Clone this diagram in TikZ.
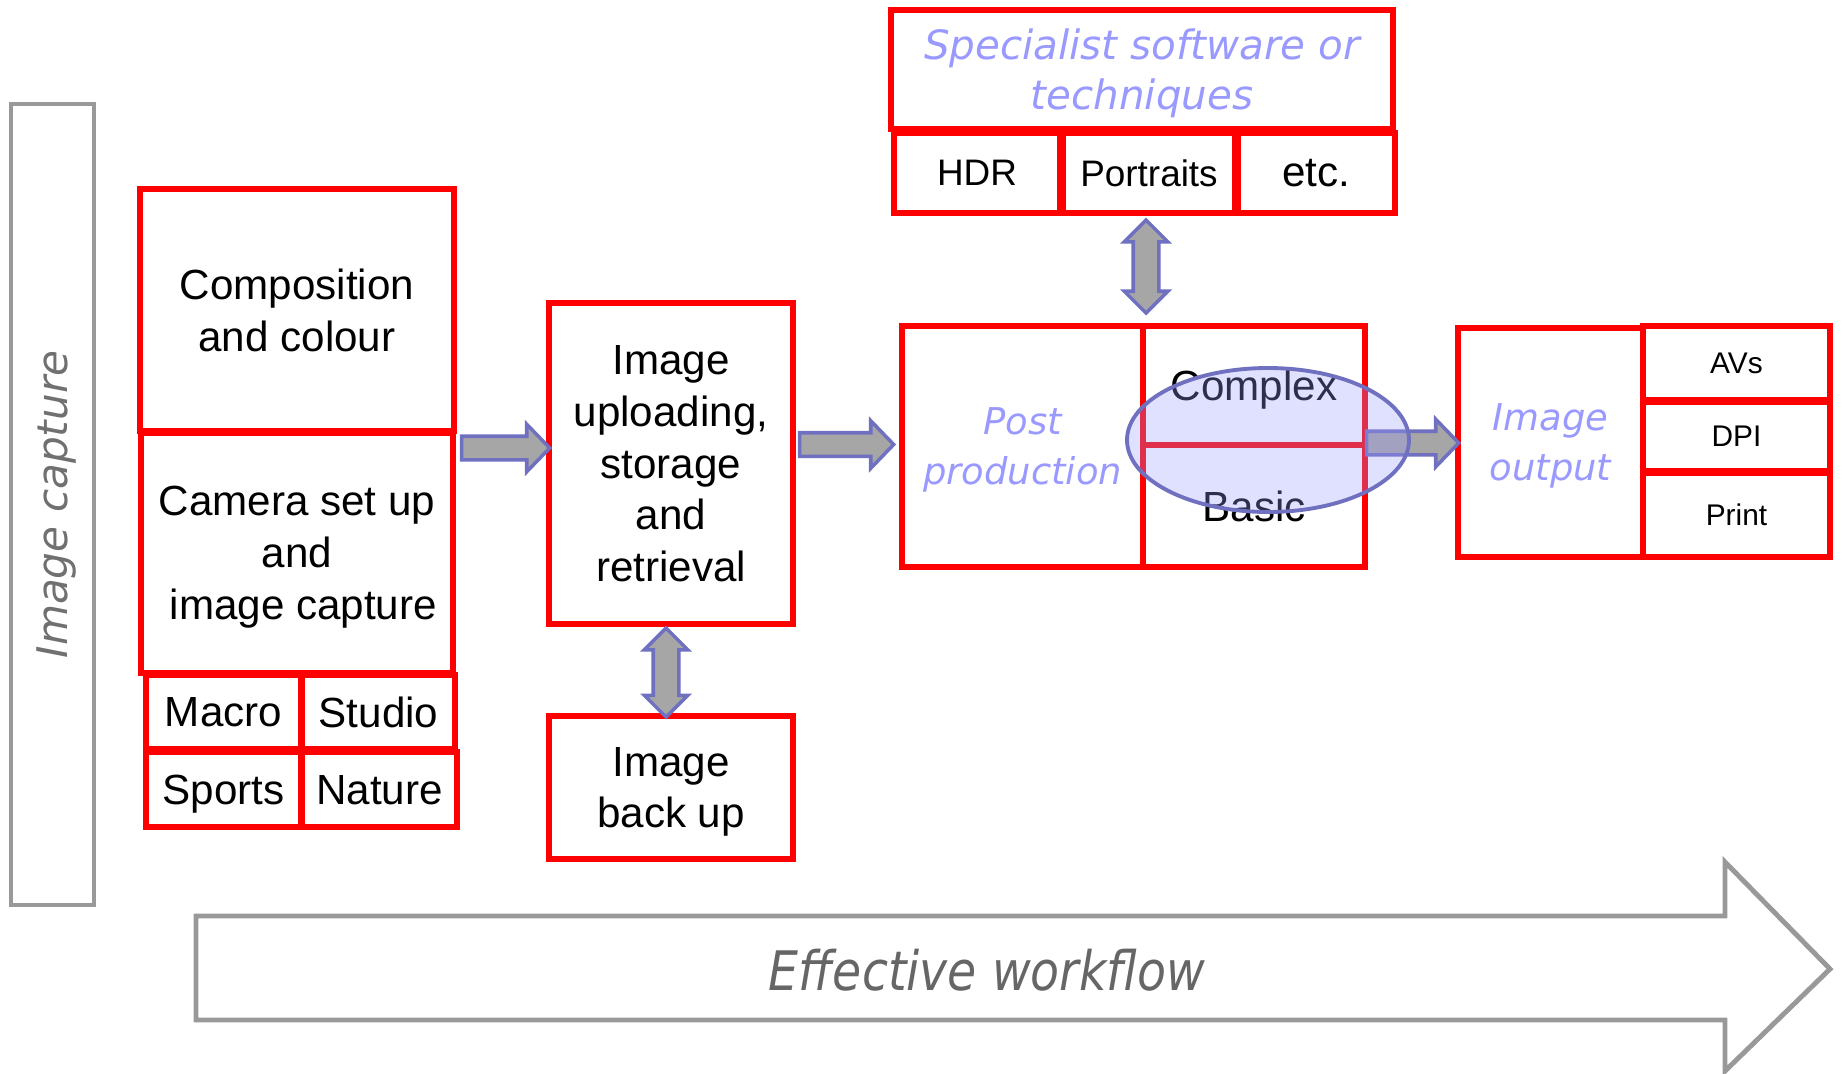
\documentclass[tikz,border=0pt]{standalone}
\usepackage{fontspec}
\setmainfont{Liberation Sans}
\newfontfamily\obliquefont{DejaVu Sans}
\newfontfamily\narrowfont[FakeStretch=0.87]{DejaVu Sans}
\usetikzlibrary{shapes.geometric,shapes.arrows,calc,positioning}
\definecolor{cRed}  {RGB}{255,  0,  0}
\definecolor{cLav}  {RGB}{153,153,255}
\definecolor{cEdge} {RGB}{112,112,192}
\definecolor{cFill} {RGB}{166,166,166}
\definecolor{cGrey} {RGB}{153,153,153}
\definecolor{cText} {RGB}{112,112,112}
\definecolor{cFlow} {RGB}{102,102,102}

%% block arrow between two named points
\newcommand{\fatlink}[3]{%
  \path let \p1=($(#3)-(#2)$), \n1={veclen(\x1,\y1)}, \n2={atan2(\y1,\x1)} in
    node[#1, minimum height=\n1, rotate=\n2] at ($(#2)!0.5!(#3)$) {};}

\begin{document}
\begin{tikzpicture}[
  x=0.02cm, y=-0.02cm,
  %% -- red outlined box (size in px) --
  B/.style 2 args={draw=cRed, line width=3.3pt, inner sep=0pt, outer sep=0pt,
    align=center, minimum width=#1*0.02cm, minimum height=#2*0.02cm,
    text depth=-2pt, font=\fontsize{24}{29.5}\selectfont},
  %% -- lavender italic label --
  L/.style={text=cLav, font=\obliquefont\itshape\fontsize{21}{28.5}\selectfont},
  %% -- grey outline --
  G/.style={draw=cGrey, line width=2.8pt},
  %% -- block arrows --
  F/.style={single arrow, draw=cEdge, fill=cFill, line width=2pt,
    inner xsep=0pt, inner ysep=0.2cm, single arrow head extend=0.24cm,
    single arrow tip angle=92},
  DA/.style={double arrow, draw=cEdge, fill=cFill, line width=2pt,
    inner xsep=0pt, inner ysep=0.22cm, double arrow head extend=0.18cm,
    double arrow tip angle=90},
]
\useasboundingbox (0,0) rectangle (1843,1073);

%% image capture column
\node[G, rotate=90, minimum width=801*0.02cm, minimum height=83*0.02cm,
  text=cText, text depth=-3pt, font=\obliquefont\itshape\fontsize{24}{29}\selectfont]
  (cap) at (52.5,504.5) {Image capture};

%% capture boxes
\node[B={314}{242}] (comp) at (297,310) {Composition\\and colour};
\node[B={312}{240}, below=0.04cm of comp] (camera)
  {Camera set up\\and\\\hspace*{0.3em}image capture};
\node[B={155}{74}] (macro) at (223.5,712) {Macro};
\node[B={153}{74}, right=0.02cm of macro] (studio) {Studio};
\node[B={155}{75}, below=0.06cm of macro] (sports) {Sports};
\node[B={155}{75}, right=0.02cm of sports] (nature) {Nature};

%% storage
\node[B={244}{321}] (upload) at (671,463.5)
  {Image\\uploading,\\storage\\and\\retrieval};
\node[B={244}{143}] (backup) at (671,787.5) {Image\\back up};

%% specialist row
\node[B={502}{119}, L, font=\obliquefont\itshape\fontsize{23}{28.5}\selectfont]
  (special) at (1142,69.5) {Specialist software or\\techniques};
\node[B={166}{80}, font=\fontsize{21}{25}\selectfont] (hdr) at (977,173) {HDR};
\node[B={172}{80}, font=\fontsize{21}{25}\selectfont, right=0.06cm of hdr]
  (portraits) {Portraits};
\node[B={157}{80}, right=0.06cm of portraits] (etc) {etc.};

%% post production
\node[B={241}{241}, L] (post) at (1022.5,446.5) {Post\\production};
\node[B={222}{119}, right=0pt of post.north east, anchor=north west]
  (complex) {Complex};
\node[B={222}{122}, below=0pt of complex] (basic) {Basic};

%% output
\node[B={185}{229}, L] (output) at (1550.5,442.5) {Image\\output};
\node[B={187}{74}, font=\fontsize{17}{20}\selectfont] (avs) at (1736.5,363) {AVs};
\node[B={187}{69}, font=\fontsize{17}{20}\selectfont, below=0.04cm of avs]
  (dpi) {DPI};
\node[B={187}{84}, font=\fontsize{17}{20}\selectfont, below=0.04cm of dpi]
  (print) {Print};

%% arrows
\coordinate (a1s) at ($(camera.north east)+(3,15)$);
\coordinate (a1e) at ($(a1s -| upload.west)+(-5,0)$);
\coordinate (a2s) at ($(upload.east |- post.west)+(1,-2)$);
\coordinate (a2e) at ($(post.west)+(-14,-2)$);
\coordinate (a3s) at ($(basic.north east)+(-4,-2)$);
\coordinate (a3e) at ($(a3s -| output.west)+(-5,0)$);
\coordinate (d1s) at ($(upload.south)+(-5,4)$);
\coordinate (d1e) at ($(backup.north)+(-5,1)$);
\coordinate (d2s) at ($(portraits.south)+(-3,7)$);
\coordinate (d2e) at ($(portraits.south |- post.north)+(-3,-13)$);

\fatlink{F}{a1s}{a1e}
\fatlink{F}{a2s}{a2e}
\fatlink{F}{a3s}{a3e}
\fatlink{DA}{d1s}{d1e}
\fatlink{DA}{d2s}{d2e}

%% highlight over complex / basic
\node[ellipse, draw=cEdge, line width=2.2pt, fill=cLav, fill opacity=0.3,
  minimum width=282*0.02cm, minimum height=144*0.02cm, inner sep=0pt]
  (oval) at (1268,440) {};

%% workflow arrow
\draw[G] (196,916) -- (1725,916) -- (1725,862) -- (1830,969)
  -- (1725,1071) -- (1725,1020) -- (196,1020) -- cycle;
\node[text=cFlow, font=\narrowfont\itshape\fontsize{31}{36}\selectfont]
  (flow) at (987,970) {Effective workflow};

\end{tikzpicture}
\end{document}
